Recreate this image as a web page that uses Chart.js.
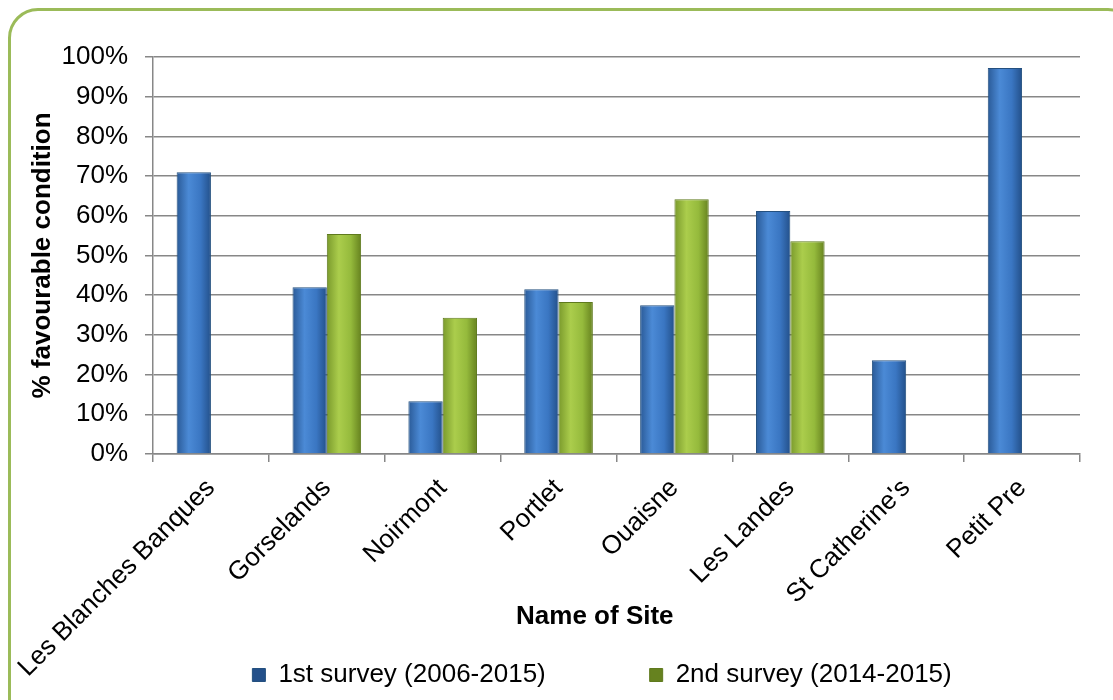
<!DOCTYPE html>
<html>
<head>
<meta charset="utf-8">
<script src="https://cdn.jsdelivr.net/npm/chart.js@4.4.1/dist/chart.umd.min.js"></script>
<style>
  html, body { margin: 0; padding: 0; background: #fff; overflow: hidden; }
  #wrap { position: relative; width: 1113px; height: 700px; }
  #frame { position: absolute; left: 8px; top: 8px; width: 1130px; height: 730px;
           border: 3px solid #9bbb59; border-radius: 30px; box-sizing: border-box; }
  #cv { position: absolute; left: 0; top: 0; }
</style>
</head>
<body>
<div id="wrap">
  <div id="frame"></div>
  <canvas id="cv" width="1113" height="700"></canvas>
</div>
<script>
var sites = ["Les Blanches Banques", "Gorselands", "Noirmont", "Portlet", "Ouaisne", "Les Landes", "St Catherine's", "Petit Pre"];
var firstSurvey = [71, 42, 13.3, 41.5, 37.5, 61.2, 23.6, 97.2];
var secondSurvey = [null, 55.4, 34.3, 38.3, 64.2, 53.6, null, null];
var seriesNames = ["1st survey (2006-2015)", "2nd survey (2014-2015)"];

var blueStops = ["#2a5a97", "#4b8ad6", "#3a76c2", "#23508a"];
var greenStops = ["#7a9a2c", "#abcd4c", "#95ba3c", "#66821f"];

// horizontal shading like the office "bevel" bars
function barFill(stops, flat) {
  return function(ctx) {
    var el = ctx.element;
    if (!el || el.x == null || !el.width) return flat;
    var c = ctx.chart.ctx;
    var g = c.createLinearGradient(el.x - el.width / 2, 0, el.x + el.width / 2, 0);
    g.addColorStop(0, stops[0]);
    g.addColorStop(0.35, stops[1]);
    g.addColorStop(0.7, stops[2]);
    g.addColorStop(1, stops[3]);
    return g;
  };
}

// extra room after each legend entry (the original spreads them far apart)
var legendGap = ["\u00a0".repeat(13), "\u00a0".repeat(4)];

var gridGray = "#878787";
Chart.defaults.font.family = "'Liberation Sans', Arial, sans-serif";
Chart.defaults.color = "#000";

// let the long rotated site names run past the axis box, like the original
var noLabelClip = {
  id: "noLabelClip",
  afterLayout: function(ch) {
    ch.scales.x._computeLabelArea = function() { return undefined; };
  }
};

var chart = new Chart(document.getElementById("cv").getContext("2d"), {
  type: "bar",
  data: {
    labels: sites,
    datasets: [{
      label: seriesNames[0],
      data: firstSurvey,
      backgroundColor: barFill(blueStops, "#3a76c2"),
      borderColor: "#24507f",
      borderWidth: 1
    }, {
      label: seriesNames[1],
      data: secondSurvey,
      backgroundColor: barFill(greenStops, "#8fb33a"),
      borderColor: "#5f7a1e",
      borderWidth: 1
    }]
  },
  plugins: [noLabelClip],
  options: {
    responsive: false,
    animation: false,
    layout: { padding: { left: 22, right: 33, top: 57, bottom: 2 } },
    datasets: { bar: { categoryPercentage: 0.592, barPercentage: 1 } },
    plugins: {
      tooltip: { enabled: false },
      legend: {
        position: "bottom",
        fullSize: false,
        labels: {
          boxWidth: 13,
          boxHeight: 13,
          padding: 10,
          font: { size: 26 },
          generateLabels: function(ch) {
            var items = Chart.defaults.plugins.legend.labels.generateLabels(ch);
            items.forEach(function(it, i) {
              it.text = it.text + legendGap[i];
              it.strokeStyle = ch.data.datasets[i].borderColor;
              it.lineWidth = 1;
            });
            return items;
          }
        }
      }
    },
    scales: {
      x: {
        grid: { drawOnChartArea: false, drawTicks: true, tickLength: 8, color: gridGray, lineWidth: 1.5 },
        border: { color: gridGray, width: 1.5 },
        ticks: { minRotation: 45, maxRotation: 45, font: { size: 26 }, padding: 11 },
        title: { display: true, text: "Name of Site" + "\u00a0".repeat(6), font: { size: 26, weight: "bold" }, padding: { top: 0, bottom: 20 } },
        afterFit: function(scale) {
          scale.height = 198;
          scale.paddingLeft = 0;
          scale.paddingRight = 0;
        }
      },
      y: {
        min: 0,
        max: 100,
        grid: { color: gridGray, lineWidth: 1.5, tickLength: 8 },
        border: { color: gridGray, width: 1.5 },
        ticks: {
          stepSize: 10,
          font: { size: 26 },
          padding: 17,
          callback: function(v) { return v + "%"; }
        },
        title: { display: true, text: "% favourable condition", font: { size: 26, weight: "bold" }, padding: { top: 5, bottom: 3 } },
        afterFit: function(scale) { scale.width = 131; }
      }
    }
  }
});
chart.update();
</script>
</body>
</html>
